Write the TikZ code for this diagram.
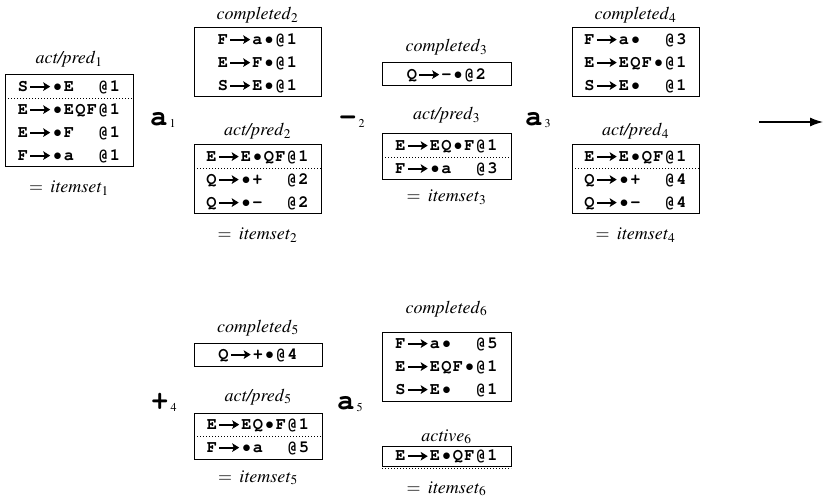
\documentclass[tikz,border=0pt]{standalone}
\usepackage[T1]{fontenc}
\usepackage{mathptmx}
\usepackage{courier}
\usetikzlibrary{arrows.meta}
\newlength\cellw \setlength\cellw{11.5pt}
\newcommand\rowarrow{\tikz[baseline=0pt]\draw[line width=1.9pt,-{Stealth[length=7pt,width=8.5pt,inset=1.5pt]}] (0pt,4.6pt)--(20pt,4.6pt);}
\def\icellone#1{%
  \ifx#1>\makebox[2\cellw]{\rowarrow}%
  \else\ifx#1*\makebox[\cellw]{$\bullet$}%
  \else\ifx#1.\hspace*{\cellw}%
  \else\makebox[\cellw]{#1}\fi\fi\fi}
\def\icells#1{\icellsi#1\relax}
\def\icellsi#1{\ifx#1\relax\else\icellone{#1}\expandafter\icellsi\fi}
\newcommand\tsub[1]{\hspace{2pt}\raisebox{-2pt}{\fontfamily{ptm}\fontseries{m}\fontshape{n}\fontsize{12}{12}\selectfont #1}}
\newcommand\ibox[5]{\node[boxst, minimum width={#3-#2}, minimum height=#5, anchor=north west] (#1) at (#2,#4) {};}
\newcommand\irow[3]{\node[rowst, anchor=base] (#1-#2) at ([yshift={-(16.2+23*#2)*1pt}]#1.north) {\icells{#3}};}
\newcommand\isep[1]{\draw[sepst] ([yshift=-23pt]#1.north west) -- ([yshift=-23pt]#1.north east);}
\begin{document}
\begin{tikzpicture}[x=1pt,y=-1pt,
  boxst/.style={draw, line width=1pt, inner sep=0pt, outer sep=0pt},
  rowst/.style={inner sep=0pt, outer sep=0pt, font=\fontfamily{pcr}\fontseries{b}\fontshape{n}\fontsize{17}{19}\selectfont},
  sepst/.style={line width=0.9pt, dash pattern=on 0.9pt off 2.1pt},
  labst/.style={anchor=base, inner sep=0pt, font=\fontsize{18}{21}\selectfont},
  trans/.style={anchor=base west, inner sep=0pt, font=\fontfamily{pcr}\fontseries{b}\fontshape{n}\fontsize{29}{30}\selectfont}]
\useasboundingbox (0,0) rectangle (823,500);
% itemset 1
\ibox{B1}{5}{133}{75}{92}
\irow{B1}{0}{S>*E..@1}
\irow{B1}{1}{E>*EQF@1}
\irow{B1}{2}{E>*F..@1}
\irow{B1}{3}{F>*a..@1}
\isep{B1}
\node[labst] (lB1) at (69,64) {\textit{act/pred}$_1$};
\node[labst] (iB1) at (69,193) {$=$\hspace{0.4em}\textit{itemset}$_1$};
\node[trans] (t1) at (150,126) {a\tsub{1}};
% itemset 2
\ibox{C2}{194}{321}{28}{69}
\irow{C2}{0}{F>a*@1}
\irow{C2}{1}{E>F*@1}
\irow{C2}{2}{S>E*@1}
\node[labst] (lC2) at (257.5,20) {\textit{completed}$_2$};
\ibox{A2}{194}{321}{145}{69}
\irow{A2}{0}{E>E*QF@1}
\irow{A2}{1}{Q>*+..@2}
\irow{A2}{2}{Q>*-..@2}
\isep{A2}
\node[labst] (lA2) at (257.5,136) {\textit{act/pred}$_2$};
\node[labst] (iA2) at (257.5,240) {$=$\hspace{0.4em}\textit{itemset}$_2$};
\node[trans] (t2) at (339,126) {-\tsub{2}};
% itemset 3
\ibox{C3}{382}{511}{63}{23}
\irow{C3}{0}{Q>-*@2}
\node[labst] (lC3) at (446.5,52) {\textit{completed}$_3$};
\ibox{A3}{382}{511}{134}{46}
\irow{A3}{0}{E>EQ*F@1}
\irow{A3}{1}{F>*a..@3}
\isep{A3}
\node[labst] (lA3) at (446.5,120) {\textit{act/pred}$_3$};
\node[labst] (iA3) at (446.5,202) {$=$\hspace{0.4em}\textit{itemset}$_3$};
\node[trans] (t3) at (525,126) {a\tsub{3}};
% itemset 4
\ibox{C4}{572}{699}{28}{69}
\irow{C4}{0}{F>a*..@3}
\irow{C4}{1}{E>EQF*@1}
\irow{C4}{2}{S>E*..@1}
\node[labst] (lC4) at (635.5,20) {\textit{completed}$_4$};
\ibox{A4}{572}{699}{145}{69}
\irow{A4}{0}{E>E*QF@1}
\irow{A4}{1}{Q>*+..@4}
\irow{A4}{2}{Q>*-..@4}
\isep{A4}
\node[labst] (lA4) at (635.5,136) {\textit{act/pred}$_4$};
\node[labst] (iA4) at (635.5,240) {$=$\hspace{0.4em}\textit{itemset}$_4$};
\coordinate (arrS) at (759,122);
\coordinate (arrE) at (823,122);
\draw[line width=1.2pt, -{Latex[length=13pt,width=9pt]}] (arrS) -- (arrE);
% itemset 5
\node[trans] (t4) at (151,409) {+\tsub{4}};
\ibox{C5}{194}{322}{343}{23}
\irow{C5}{0}{Q>+*@4}
\node[labst] (lC5) at (258,332) {\textit{completed}$_5$};
\ibox{A5}{194}{322}{413}{46}
\irow{A5}{0}{E>EQ*F@1}
\irow{A5}{1}{F>*a..@5}
\isep{A5}
\node[labst] (lA5) at (258,401) {\textit{act/pred}$_5$};
\node[labst] (iA5) at (258,482) {$=$\hspace{0.4em}\textit{itemset}$_5$};
\node[trans] (t5) at (337,409) {a\tsub{5}};
% itemset 6
\ibox{C6}{382}{511}{332}{69}
\irow{C6}{0}{F>a*..@5}
\irow{C6}{1}{E>EQF*@1}
\irow{C6}{2}{S>E*..@1}
\node[labst] (lC6) at (446.5,313) {\textit{completed}$_6$};
\ibox{A6}{382}{511}{446}{20}
\node[rowst, anchor=base] (A6-0) at ([yshift=-14.8pt]A6.north) {\icells{E>E*QF@1}};
\draw[sepst] ([yshift=-2pt]A6.south west) -- ([yshift=-2pt]A6.south east);
\node[labst] (lA6) at (446.5,441) {\textit{active}$_6$};
\node[labst] (iA6) at (446.5,493) {$=$\hspace{0.4em}\textit{itemset}$_6$};
\end{tikzpicture}
\end{document}
